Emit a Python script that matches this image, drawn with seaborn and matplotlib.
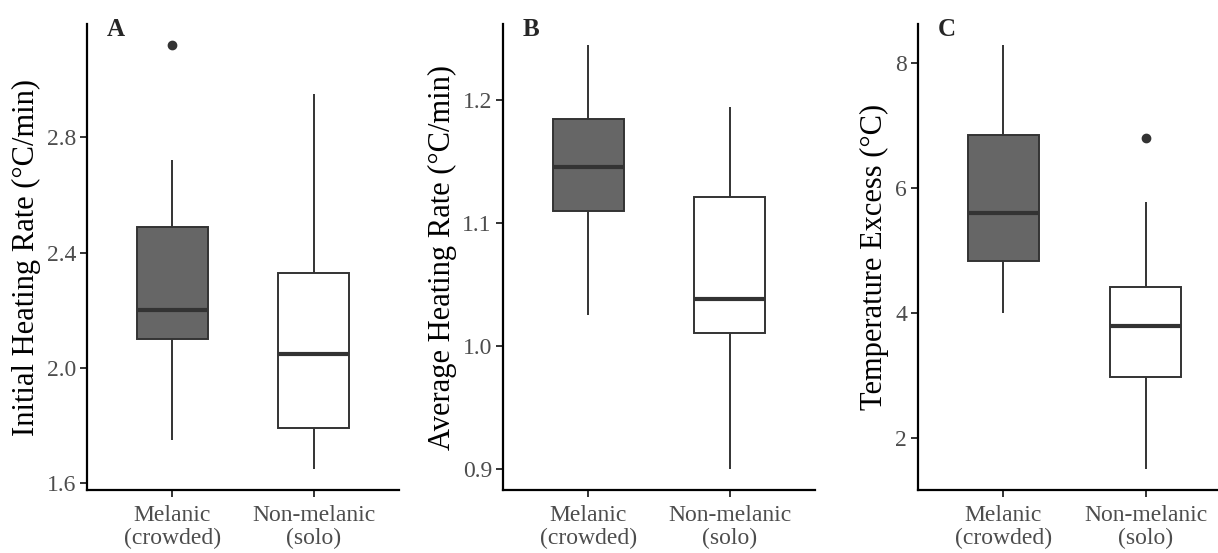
import matplotlib
matplotlib.use("Agg")
import matplotlib.pyplot as plt
import seaborn as sns
import pandas as pd

# groups on the x axis
groups = ["Melanic\n(crowded)", "Non-melanic\n(solo)"]

init_melanic = [1.75, 1.95, 2.10, 2.15, 2.20, 2.35, 2.49, 2.72, 3.12]
init_solo = [1.65, 1.72, 1.79, 1.90, 2.05, 2.20, 2.33, 2.60, 2.95]

avg_melanic = [1.025, 1.07, 1.110, 1.13, 1.146, 1.16, 1.185, 1.21, 1.245]
avg_solo = [0.90, 0.97, 1.011, 1.02, 1.038, 1.08, 1.121, 1.16, 1.195]

excess_melanic = [4.0, 4.5, 4.83, 5.2, 5.6, 6.2, 6.84, 7.5, 8.28]
excess_solo = [1.51, 2.3, 2.98, 3.4, 3.79, 4.1, 4.41, 5.78, 6.79]

panels = [
    ("A", "Initial Heating Rate (°C/min)", init_melanic, init_solo, [1.6, 2.0, 2.4, 2.8], "{:.1f}"),
    ("B", "Average Heating Rate (°C/min)", avg_melanic, avg_solo, [0.9, 1.0, 1.1, 1.2], "{:.1f}"),
    ("C", "Temperature Excess (°C)", excess_melanic, excess_solo, [2, 4, 6, 8], "{:d}"),
]

sns.set_style("white")
plt.rcParams["font.family"] = ["Liberation Serif", "DejaVu Serif"]

W, H = 1218, 553
fig = plt.figure(figsize=(W / 100, H / 100), dpi=100)

# axes boxes in pixels: left, right
lefts = [87, 503, 918]
rights = [399, 815, 1231]
top_px, bottom_px = 24, 490

colors = {groups[0]: "#666666", groups[1]: "white"}

for i, (tag, ylab, mel, solo, ticks, fmt) in enumerate(panels):
    ax = fig.add_axes([lefts[i] / W, 1 - bottom_px / H,
                       (rights[i] - lefts[i]) / W, (bottom_px - top_px) / H])
    df = pd.DataFrame({
        "group": [groups[0]] * len(mel) + [groups[1]] * len(solo),
        "value": mel + solo,
    })
    sns.boxplot(data=df, x="group", y="value", hue="group", palette=colors,
                legend=False, width=0.5, linecolor="#333333", linewidth=1.4,
                showcaps=False, fliersize=6, ax=ax,
                medianprops=dict(linewidth=3, color="#333333"),
                flierprops=dict(marker="o", markerfacecolor="#333333",
                                markeredgecolor="#333333"))
    vals = mel + solo
    lo, hi = min(vals), max(vals)
    pad = (hi - lo) * 0.05
    ax.set_ylim(lo - pad, hi + pad)
    ax.set_xlim(-0.6, 1.6)
    ax.set_yticks(ticks)
    ax.set_yticklabels([fmt.format(t) for t in ticks])
    ax.set_xlabel("")
    ax.set_ylabel(ylab, fontsize=22, color="black", labelpad=4)
    ax.tick_params(axis="both", labelsize=17, labelcolor="#4d4d4d",
                   color="#333333", length=5, width=1.4, direction="out",
                   left=True, bottom=True, pad=3)
    ax.tick_params(axis="x", pad=6)
    for lbl in ax.get_xticklabels():
        lbl.set_linespacing(1.1)
    for side in ["top", "right"]:
        ax.spines[side].set_visible(False)
    for side in ["left", "bottom"]:
        ax.spines[side].set_color("black")
        ax.spines[side].set_linewidth(1.6)
    ax.text(0.064, 1 - 12 / (bottom_px - top_px), tag, transform=ax.transAxes,
            fontsize=18, fontweight="bold", va="baseline", ha="left")

fig.savefig("out.png", dpi=100)
